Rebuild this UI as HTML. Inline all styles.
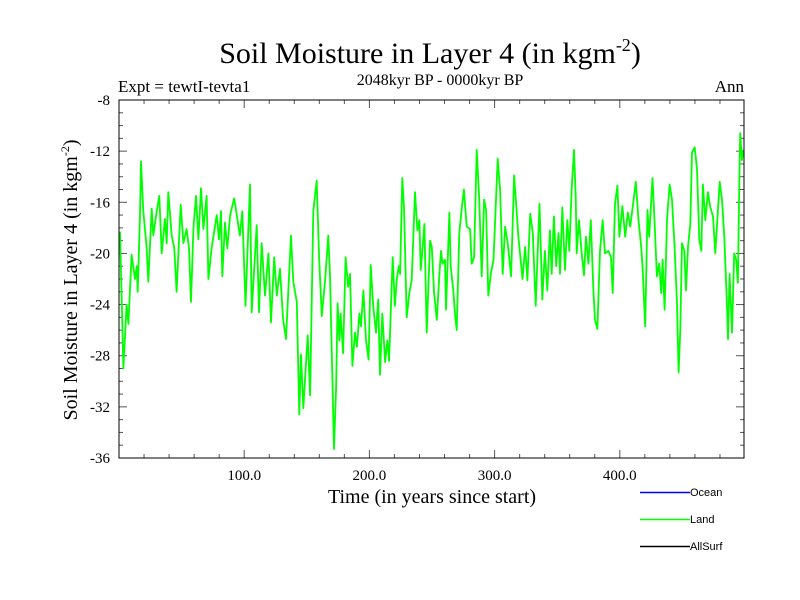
<!DOCTYPE html>
<html><head><meta charset="utf-8"><style>
body{margin:0;background:#fff;}
svg{display:block;font-family:"Liberation Serif",serif;}
</style></head><body>
<svg id="chart" width="800" height="600" viewBox="0 0 800 600">
<rect width="800" height="600" fill="#fff"/>
<text x="430" y="63" font-size="30" text-anchor="middle">Soil Moisture in Layer 4 (in kgm<tspan font-size="18" dy="-12">-2</tspan><tspan dy="12">)</tspan></text>
<text x="440" y="85" font-size="16" text-anchor="middle">2048kyr BP - 0000kyr BP</text>
<text x="118" y="92" font-size="17">Expt = tewtI-tevta1</text>
<text x="744" y="92" font-size="17" text-anchor="end">Ann</text>
<text x="432" y="503" font-size="20" text-anchor="middle">Time (in years since start)</text>
<text transform="translate(77,280) rotate(-90)" font-size="20" text-anchor="middle">Soil Moisture in Layer 4 (in kgm<tspan font-size="12" dy="-8">-2</tspan><tspan dy="8">)</tspan></text>
<g id="ticks"></g>
<g id="series"></g>
<rect x="119" y="100" width="625" height="358" fill="none" stroke="#000" stroke-width="1"/>
<g font-family="Liberation Sans, sans-serif" font-size="11">
<g><line x1="640" y1="492.5" x2="690" y2="492.5" stroke="#0000ff" stroke-width="1.5"/><text x="690" y="496">Ocean</text></g>
<g><line x1="640" y1="519.5" x2="690" y2="519.5" stroke="#00ff00" stroke-width="1.5"/><text x="690" y="523">Land</text></g>
<g><line x1="640" y1="546.5" x2="690" y2="546.5" stroke="#000" stroke-width="1.5"/><text x="690" y="550">AllSurf</text></g>
</g>
</svg>
<script>
const years = [0.8,3.5,6.1,7.5,10.1,12.8,14.1,14.9,16.8,17.6,19.4,22.1,23.4,26.1,27.4,30.1,32.2,34.1,36.7,38.1,39.4,42.1,44.2,46,49.3,51.4,54,55.9,57.5,59.4,61.5,63.4,65.5,67.4,70,71.4,74,78,79.9,81.5,82.5,84.7,86.5,88.7,92,96.6,98.5,101,104.6,106,110,111.8,114,116.6,119.3,121.4,124,126,128.6,131,133.4,137.4,139.2,142,144,145.4,147.2,150.7,152.6,155.2,157.9,159.8,162,164.5,167.2,168.5,171.7,173.4,174.6,176,177,179,181,183,184.5,186.4,188.5,190,192,193.3,195.2,197.3,199.4,201,203,205.3,207,208.5,210.3,212.5,214.3,215.7,217,218.6,220.4,221.8,223.4,224.5,226.3,227.6,229.8,231.9,233.8,236.4,238.3,239.9,241,242.6,243.9,245.8,248.5,249.8,251.7,253.8,255.9,257.2,258.5,260.4,261.2,263.9,264.9,267,268.4,269.7,271.8,273.7,275.5,277.7,280.4,281.7,283.6,285.7,287.6,289.7,291.6,293.2,295,297,299.1,302.5,304.4,306.5,308.4,310.5,313.2,315.6,317.2,319,322.3,324.4,326.2,328.4,330.5,332.8,335.9,338.1,340.2,342.1,344.2,345.6,347.4,349.2,351,352.2,354.1,356.2,358.1,359.7,361.6,363.4,364.8,365.6,367.4,369.6,371.4,373,374.9,376.8,378.9,380.2,382.1,384.2,386.3,388.2,390.9,393,394.3,396.2,398.1,399.7,402.1,404.3,406.4,408.3,410.4,412.8,414.9,417.1,418.1,420.3,422.1,423.5,426.1,427.7,429.6,431.5,433.1,434.2,435.8,437.7,439.8,441.7,443.8,445.7,447,448.3,449.7,451.5,452.9,454.5,456.3,457.7,459.8,461.7,463.5,465.1,466.4,468.3,470.4,472.3,474.4,476.3,477.6,479.8,481.6,483.5,485.6,486.4,487.7,489.6,491.4,493,494.3,495.4,496.2,497.5,498.8];
const landValues = [-18.3,-29,-24,-25.5,-20.1,-22,-21,-23,-17,-12.8,-16.7,-19.6,-22.2,-16.5,-18.6,-16.7,-15.5,-20,-17.3,-19.2,-15.2,-18.6,-19.6,-23,-16.2,-19.2,-18.1,-19.6,-23.8,-18.1,-15.5,-18.9,-14.9,-18.1,-15.5,-22,-19.6,-17,-18.9,-16.7,-21.8,-17.6,-19.6,-17,-15.7,-18.6,-16.7,-24.1,-14.6,-24.6,-17.8,-24.6,-19.2,-23.3,-20,-25.4,-20.3,-23.3,-21.2,-25.1,-26.7,-18.6,-22.2,-23.8,-32.6,-27.9,-32.1,-26.4,-31.1,-16.7,-14.3,-20.3,-24.9,-22.2,-18.6,-21.7,-35.3,-30.5,-23.9,-26.8,-24.7,-27.8,-20.3,-22.6,-21.6,-28.8,-26.2,-27.3,-24.7,-25.7,-22.9,-26.8,-28.3,-20.9,-24.1,-26.2,-23.6,-29.5,-24.7,-28.5,-26.8,-28.4,-24.7,-20.3,-24.1,-22.1,-21,-21.6,-14.1,-16.4,-25,-23.1,-22.1,-15.2,-18.2,-17.4,-21.3,-19.5,-17.7,-26.2,-19,-19.5,-23.1,-25.2,-21.6,-19.8,-20.8,-20.5,-24.4,-16.8,-21,-22.9,-24.7,-26,-18.4,-16.5,-15,-17.9,-18.1,-20.8,-20.3,-11.9,-15.5,-21.8,-15.8,-16.6,-23.3,-21.6,-20.5,-12.6,-15,-21.6,-17.9,-19.2,-21.8,-13.9,-16.1,-18.7,-22,-19.5,-22.1,-16.9,-18.4,-24.1,-16.1,-23.6,-19.8,-22.9,-18.2,-21.6,-17.1,-21,-18.4,-21.6,-16.4,-21.3,-17.4,-19.8,-14.9,-11.9,-15.5,-20,-17.4,-20,-21.7,-18.7,-20.8,-17.4,-22.9,-25.2,-25.9,-19.8,-17.4,-20,-19.8,-20.3,-23.1,-16.1,-14.7,-18.7,-16.3,-18.7,-16.8,-17.9,-16.3,-14.4,-17.4,-19.5,-21,-25.7,-16.6,-18.7,-14.1,-17.4,-21.8,-20.8,-23.1,-20.5,-24.4,-17.4,-14.6,-15.8,-19.5,-23.9,-29.3,-26,-19.2,-19.8,-22.9,-19.5,-17.7,-12.1,-11.7,-13.4,-18.9,-19.8,-14.6,-17.4,-15.2,-16.4,-17.1,-20,-17.8,-14.4,-15.8,-18.7,-24.1,-26.7,-21.6,-26.2,-20,-20.5,-22.3,-15,-10.6,-12.7,-11.9];
const xTickValues = [100,200,300,400];
const xTickLabels = ["100.0","200.0","300.0","400.0"];
const yTickValues = [-8,-12,-16,-20,-24,-28,-32,-36];
const yTickLabels = ["-8","-12","-16","-20","-24","-28","-32","-36"];

const L=119,R=744,T=100,B=458, XMIN=0,XMAX=499.2,YMIN=-36,YMAX=-8;
function xs(v){return L+(v-XMIN)/(XMAX-XMIN)*(R-L);}
function ys(v){return B-(v-YMIN)/(YMAX-YMIN)*(B-T);}
const NS="http://www.w3.org/2000/svg";
const tg=document.getElementById('ticks');
function ln(x1,y1,x2,y2,name){const e=document.createElementNS(NS,'line');e.setAttribute('x1',x1);e.setAttribute('y1',y1);e.setAttribute('x2',x2);e.setAttribute('y2',y2);e.setAttribute('stroke','#555');e.setAttribute('stroke-width','1');


tg.appendChild(e);}
function tx(x,y,s,anchor,name){const e=document.createElementNS(NS,'text');e.setAttribute('x',x);e.setAttribute('y',y);e.setAttribute('font-size','15');e.setAttribute('text-anchor',anchor);e.textContent=s;


tg.appendChild(e);}
for(let v=20;v<XMAX;v+=20){const x=xs(v);const len=(v%100===0)?8:4;ln(x,B,x,B-len,'x-tick');ln(x,T,x,T+len,'x-tick-top');}
for(let v=YMIN+1;v<YMAX;v+=1){const y=ys(v);const len=(v%4===0)?8:4;ln(L,y,L+len,y,'y-tick');ln(R,y,R-len,y,'y-tick-right');}
xTickValues.forEach((v,i)=>tx(xs(v),480,xTickLabels[i],'middle','x-tick-label'));
yTickValues.forEach((v,i)=>tx(110,ys(v)+5,yTickLabels[i],'end','y-tick-label'));
const p=document.createElementNS(NS,'polyline');
p.setAttribute('points',years.map((yr,i)=>xs(yr).toFixed(1)+','+ys(landValues[i]).toFixed(1)).join(' '));
p.setAttribute('fill','none');p.setAttribute('stroke','#00ff00');p.setAttribute('stroke-width','1.8');p.setAttribute('stroke-linejoin','round');


document.getElementById('series').appendChild(p);
</script>
</body></html>
